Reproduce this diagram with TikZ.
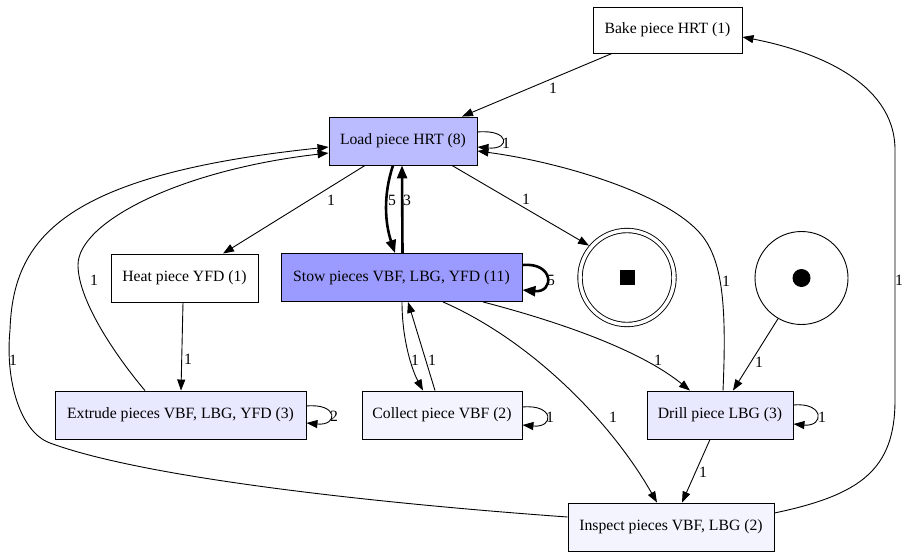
\documentclass[tikz,border=0pt]{standalone}
\usepackage{fontspec}
\setmainfont{Liberation Serif}
\usetikzlibrary{arrows.meta}
\definecolor{loadblue}{RGB}{187,187,255}
\definecolor{stowblue}{RGB}{155,155,255}
\definecolor{paleblue}{RGB}{232,232,255}
\definecolor{faintblue}{RGB}{244,244,255}

\begin{document}
\begin{tikzpicture}[x=1pt, y=-1pt,
        every node/.style={font=\fontsize{15.7}{18}\selectfont},
        trans/.style={draw, line width=0.9pt, minimum height=48pt, inner sep=0pt},
        place/.style={draw, circle, line width=0.9pt, inner sep=0pt},
        flow/.style={-{Triangle[length=11pt,width=8pt]}, line width=0.9pt},
        boldflow/.style={-{Triangle[length=13pt,width=10pt]}, line width=2.6pt},
        lbl/.style={inner sep=0pt}]
        \useasboundingbox (0,0) rectangle (909,557);

        % Transitions
        \node [trans, fill=white, minimum width=149pt, minimum height=46pt] (bake) at (667.5,30) {Bake piece HRT (1)};
        \node [trans, fill=loadblue, minimum width=148pt] (load) at (403,141) {Load piece HRT (8)};
        \node [trans, fill=white, minimum width=147pt] (heat) at (184.5,278) {Heat piece YFD (1)};
        \node [trans, fill=stowblue, minimum width=241pt] (stow) at (401.5,277.5) {Stow pieces VBF, LBG, YFD (11)};
        \node [trans, fill=paleblue, minimum width=251pt] (extrude) at (180.5,415) {Extrude pieces VBF, LBG, YFD (3)};
        \node [trans, fill=faintblue, minimum width=160pt] (collect) at (442,415) {Collect piece VBF (2)};
        \node [trans, fill=paleblue, minimum width=146pt] (drill) at (720,415) {Drill piece LBG (3)};
        \node [trans, fill=faintblue, minimum width=206pt] (inspect) at (671,527) {Inspect pieces VBF, LBG (2)};

        % Places
        \node [place, minimum size=93pt] (start) at (801.5,278) {};
        \fill (start.center) circle (9pt);
        \node [place, double, double distance=3.5pt, minimum size=94pt, outer sep=2.6pt] (end) at (627,277.5) {\rule{15pt}{15pt}};

        % Arcs
        \draw [flow] ([xshift=-55.5pt]bake.south) -- ([xshift=59pt]load.north);
        \draw [flow] ([yshift=9pt]load.east) .. controls +(33,-3) and +(33,3) .. ([yshift=-6pt]load.east);
        \draw [flow] ([xshift=-38pt]load.south) -- ([xshift=38.5pt]heat.north);
        \draw [boldflow] ([xshift=-10pt]load.south) .. controls +(-10,30) and +(-10,-30) .. ([xshift=-6.5pt]stow.north);
        \draw [boldflow] ([xshift=1pt]stow.north) -- ([xshift=-1pt]load.south);
        \draw [flow] ([xshift=49pt]load.south) -- (end.140);
        \draw [boldflow] ([yshift=12.5pt]stow.east) .. controls +(32,-3) and +(32,3) .. ([yshift=-12.5pt]stow.east);
        \draw [flow] ([xshift=-1.5pt]heat.south) -- ([xshift=0.5pt]extrude.north);
        \draw [flow] ([xshift=-35.5pt]extrude.north) .. controls (115,355) and (78,300) .. (78,265)
            .. controls (78,222) and (180,170) .. ([yshift=-12pt]load.west);
        \draw [flow] ([yshift=9pt]extrude.east) .. controls +(32,-3) and +(32,3) .. ([yshift=-8pt]extrude.east);
        \draw [flow] ([yshift=10pt]inspect.west) .. controls (400,505) and (150,480) .. (50,443)
            .. controls (20,432) and (5,380) .. (10,330)
            .. controls (13,240) and (60,175) .. ([yshift=-6pt]load.west);
        \draw [flow] ([xshift=0.5pt]stow.south) .. controls (402,340) and (412,370) .. ([xshift=-19pt]collect.north);
        \draw [flow] ([xshift=-7pt]collect.north) -- ([xshift=6.5pt]stow.south);
        \draw [flow] ([yshift=8pt]collect.east) .. controls +(32,-3) and +(32,3) .. ([yshift=-10pt]collect.east);
        \draw [flow] ([xshift=81.5pt]stow.south) .. controls (560,322) and (640,350) .. ([xshift=-30pt]drill.north);
        \draw [flow] ([xshift=41.5pt]stow.south) .. controls (530,340) and (610,420) .. ([xshift=-14pt]inspect.north);
        \draw [flow] ([xshift=3pt]drill.north) .. controls (727,300) and (722,255) .. (697,230)
            .. controls (660,192) and (560,162) .. ([yshift=-10pt]load.east);
        \draw [flow] (start.240) -- ([xshift=13pt]drill.north);
        \draw [flow] ([yshift=10pt]drill.east) .. controls +(31,-3) and +(31,3) .. ([yshift=-9pt]drill.east);
        \draw [flow] ([xshift=-10pt]drill.south) -- ([xshift=11pt]inspect.north);
        \draw [flow] ([yshift=14pt]inspect.east) .. controls (860,495) and (895,470) .. (895,400) -- (895,150)
            .. controls (895,80) and (810,50) .. ([yshift=-7pt]bake.east);

        % Labels
        \node [lbl] at (553,88) {1};
        \node [lbl] at (506,143) {1};
        \node [lbl] at (331,200) {1};
        \node [lbl] at (392,200) {5};
        \node [lbl] at (407,200) {3};
        \node [lbl] at (526,199) {1};
        \node [lbl] at (551,280) {5};
        \node [lbl] at (188,359) {1};
        \node [lbl] at (94,280) {1};
        \node [lbl] at (13,360) {1};
        \node [lbl] at (415,360) {1};
        \node [lbl] at (432,360) {1};
        \node [lbl] at (550,417) {1};
        \node [lbl] at (334,416) {2};
        \node [lbl] at (658,360) {1};
        \node [lbl] at (613,417) {1};
        \node [lbl] at (726,281) {1};
        \node [lbl] at (759,362) {1};
        \node [lbl] at (822,417) {1};
        \node [lbl] at (703,472) {1};
        \node [lbl] at (899,280) {1};
    \end{tikzpicture}
\end{document}
